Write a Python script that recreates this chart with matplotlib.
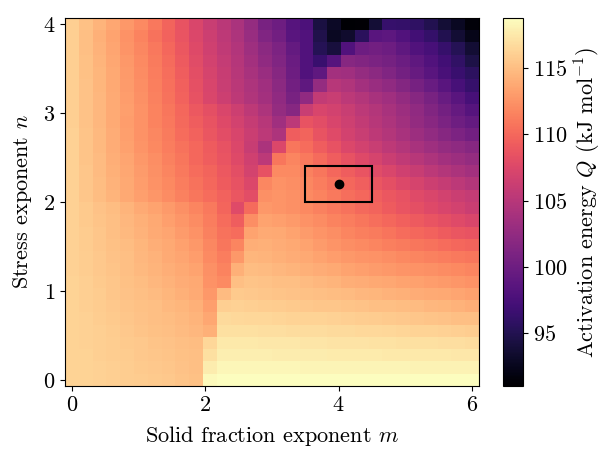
import numpy as np
import matplotlib
matplotlib.use('Agg')
from matplotlib import pyplot as plt
from matplotlib.patches import Rectangle

plt.rcParams['font.family'] = 'serif'
plt.rcParams['font.serif'] = ['cmr10']
plt.rcParams['mathtext.fontset'] = 'cm'
plt.rcParams['axes.formatter.use_mathtext'] = True
plt.rcParams['font.size'] = 16

# grid of exponents
m_values = np.linspace(0, 6, 30)
n_values = np.linspace(0, 4, 30)

# activation energy Q (kJ/mol), one row per n (n = 0 first)
q_rows = [
    [116.3, 116.2, 116.1, 116.0, 115.9, 115.8, 115.7, 115.6, 115.4, 115.2, 118.5, 118.7, 118.7, 118.8, 118.8, 118.8, 118.8, 118.8, 118.8, 118.8, 118.8, 118.7, 118.7, 118.7, 118.7, 118.7, 118.7, 118.7, 118.7, 118.7],
    [116.3, 116.2, 116.1, 116.0, 115.9, 115.7, 115.6, 115.5, 115.3, 115.1, 117.8, 118.3, 118.3, 118.3, 118.3, 118.3, 118.3, 118.2, 118.2, 118.2, 118.2, 118.2, 118.2, 118.2, 118.2, 118.1, 118.1, 118.1, 118.1, 118.1],
    [116.3, 116.2, 116.0, 115.9, 115.8, 115.6, 115.5, 115.4, 115.2, 115.0, 117.0, 117.9, 117.9, 117.9, 117.9, 117.8, 117.8, 117.8, 117.8, 117.7, 117.7, 117.7, 117.7, 117.6, 117.6, 117.6, 117.5, 117.5, 117.4, 117.4],
    [116.3, 116.1, 116.0, 115.9, 115.7, 115.6, 115.4, 115.3, 115.1, 114.9, 116.5, 117.5, 117.5, 117.5, 117.4, 117.4, 117.4, 117.3, 117.3, 117.2, 117.2, 117.2, 117.1, 117.1, 117.0, 117.0, 117.0, 116.9, 116.9, 116.8],
    [116.2, 116.1, 116.0, 115.8, 115.6, 115.4, 115.2, 115.0, 114.8, 114.6, 114.2, 117.0, 117.0, 117.0, 116.9, 116.9, 116.8, 116.8, 116.8, 116.7, 116.7, 116.6, 116.6, 116.5, 116.4, 116.3, 116.2, 116.1, 116.0, 115.9],
    [116.2, 116.1, 115.9, 115.7, 115.5, 115.3, 115.1, 114.9, 114.7, 114.4, 113.6, 116.7, 116.6, 116.5, 116.5, 116.4, 116.3, 116.2, 116.2, 116.1, 116.0, 115.9, 115.8, 115.7, 115.6, 115.5, 115.4, 115.3, 115.1, 115.0],
    [116.2, 116.0, 115.8, 115.6, 115.4, 115.2, 115.0, 114.7, 114.5, 114.2, 113.2, 116.0, 116.1, 116.0, 115.9, 115.8, 115.7, 115.6, 115.5, 115.5, 115.4, 115.3, 115.1, 115.0, 114.9, 114.8, 114.6, 114.5, 114.3, 114.1],
    [116.2, 116.0, 115.8, 115.5, 115.3, 115.1, 114.8, 114.5, 114.2, 113.9, 112.8, 114.8, 115.7, 115.6, 115.5, 115.4, 115.3, 115.2, 115.1, 114.9, 114.8, 114.6, 114.5, 114.3, 114.2, 114.0, 113.9, 113.7, 113.5, 113.3],
    [116.2, 116.0, 115.7, 115.5, 115.2, 114.9, 114.6, 114.3, 114.0, 113.7, 112.5, 112.0, 115.0, 115.4, 115.3, 115.1, 115.0, 114.8, 114.6, 114.4, 114.1, 114.0, 113.8, 113.6, 113.4, 113.3, 113.1, 112.9, 112.7, 112.5],
    [116.1, 115.9, 115.6, 115.4, 115.1, 114.7, 114.4, 114.1, 113.8, 113.4, 112.3, 111.6, 114.2, 114.9, 114.8, 114.6, 114.4, 114.2, 114.0, 113.7, 113.4, 113.2, 113.0, 112.8, 112.6, 112.4, 112.3, 112.1, 111.9, 111.7],
    [116.1, 115.9, 115.6, 115.3, 115.0, 114.6, 114.3, 113.9, 113.5, 113.1, 112.0, 111.2, 112.8, 114.5, 114.4, 114.2, 114.0, 113.7, 113.4, 113.1, 112.8, 112.6, 112.4, 112.2, 111.9, 111.7, 111.5, 111.3, 111.0, 110.8],
    [116.1, 115.8, 115.5, 115.2, 114.9, 114.5, 114.1, 113.7, 113.3, 112.8, 111.8, 110.8, 111.7, 114.1, 114.2, 114.0, 113.7, 113.4, 113.0, 112.6, 112.2, 112.0, 111.7, 111.4, 111.1, 110.8, 110.6, 110.3, 110.0, 109.7],
    [116.1, 115.8, 115.5, 115.1, 114.7, 114.3, 113.9, 113.5, 113.0, 112.5, 111.5, 110.6, 110.3, 113.4, 113.9, 113.7, 113.4, 113.0, 112.6, 112.2, 111.7, 111.4, 111.1, 110.7, 110.3, 110.0, 109.6, 109.2, 108.8, 108.5],
    [116.1, 115.7, 115.4, 115.0, 114.6, 114.2, 113.7, 113.2, 112.7, 112.1, 111.3, 110.3, 109.3, 112.2, 113.4, 113.2, 112.9, 112.5, 112.1, 111.6, 111.2, 110.8, 110.4, 110.0, 109.5, 109.1, 108.7, 108.2, 107.8, 107.3],
    [116.1, 115.7, 115.3, 114.9, 114.4, 113.9, 113.4, 112.9, 112.3, 111.7, 111.0, 109.8, 107.8, 110.2, 112.8, 112.6, 112.3, 111.9, 111.5, 111.0, 110.6, 110.1, 109.7, 109.2, 108.7, 108.2, 107.7, 107.2, 106.8, 106.3],
    [116.1, 115.5, 114.9, 114.4, 113.8, 113.2, 112.7, 112.1, 111.5, 110.8, 110.3, 109.6, 108.8, 108.0, 112.3, 112.6, 112.3, 112.0, 111.6, 111.0, 110.4, 109.9, 109.4, 108.9, 108.4, 107.8, 107.3, 106.8, 106.3, 105.8],
    [116.1, 115.5, 114.9, 114.3, 113.7, 113.1, 112.5, 111.9, 111.2, 110.6, 110.0, 109.2, 108.4, 107.4, 111.8, 112.4, 112.2, 111.8, 111.3, 110.6, 110.0, 109.4, 108.8, 108.2, 107.6, 107.0, 106.4, 105.9, 105.3, 104.7],
    [116.1, 115.5, 114.8, 114.2, 113.6, 113.0, 112.3, 111.7, 111.0, 110.3, 109.7, 109.0, 108.1, 106.9, 108.4, 112.0, 112.0, 111.5, 110.8, 110.0, 109.3, 108.6, 107.9, 107.3, 106.6, 106.0, 105.3, 104.7, 104.2, 103.7],
    [116.1, 115.4, 114.8, 114.1, 113.5, 112.8, 112.2, 111.5, 110.8, 110.0, 109.3, 108.6, 107.7, 106.6, 105.3, 110.8, 111.7, 111.0, 110.2, 109.3, 108.4, 107.7, 107.0, 106.3, 105.6, 104.9, 104.3, 103.7, 103.2, 102.7],
    [116.1, 115.4, 114.7, 114.0, 113.3, 112.6, 111.9, 111.2, 110.6, 109.9, 109.2, 108.4, 107.4, 106.0, 104.2, 107.4, 110.8, 110.3, 109.3, 108.4, 107.5, 106.8, 106.1, 105.4, 104.7, 104.0, 103.3, 102.7, 102.2, 101.7],
    [116.1, 115.4, 114.7, 114.0, 113.2, 112.5, 111.8, 111.1, 110.3, 109.6, 108.8, 108.0, 107.2, 106.3, 105.3, 104.3, 109.3, 109.7, 108.5, 107.8, 106.8, 106.1, 105.4, 104.7, 104.0, 103.2, 102.5, 101.7, 101.0, 100.3],
    [116.0, 115.3, 114.6, 113.9, 113.1, 112.4, 111.6, 110.9, 110.1, 109.3, 108.5, 107.7, 106.8, 105.9, 105.0, 103.4, 105.3, 108.5, 108.0, 107.2, 106.5, 105.7, 105.0, 104.3, 103.5, 102.6, 101.8, 100.9, 100.1, 99.3],
    [116.0, 115.3, 114.6, 113.9, 113.2, 112.4, 111.6, 110.8, 109.9, 109.0, 108.2, 107.3, 106.4, 105.4, 104.3, 102.7, 101.7, 106.2, 107.2, 106.8, 106.2, 105.3, 104.7, 104.0, 103.2, 102.3, 101.4, 100.4, 99.4, 98.3],
    [116.0, 115.3, 114.6, 113.9, 113.1, 112.3, 111.5, 110.6, 109.6, 108.4, 107.3, 106.4, 105.4, 104.5, 103.7, 102.3, 100.7, 102.3, 105.7, 106.2, 105.3, 104.7, 104.0, 103.4, 102.6, 101.7, 100.7, 99.6, 98.5, 97.3],
    [116.0, 115.3, 114.5, 113.8, 113.0, 112.2, 111.4, 110.5, 109.5, 108.3, 107.2, 106.2, 105.2, 104.3, 103.4, 102.0, 100.3, 99.0, 102.7, 105.0, 104.5, 103.7, 103.0, 102.3, 101.5, 100.6, 99.6, 98.5, 97.4, 96.3],
    [116.0, 115.2, 114.5, 113.7, 112.9, 112.1, 111.3, 110.4, 109.3, 108.1, 107.0, 106.0, 105.0, 104.0, 103.0, 101.7, 100.0, 98.0, 99.0, 103.7, 103.4, 102.7, 102.0, 101.3, 100.4, 99.5, 98.5, 97.5, 96.5, 95.6],
    [116.0, 115.2, 114.4, 113.6, 112.8, 112.0, 111.1, 110.2, 109.1, 107.9, 106.8, 105.8, 104.8, 103.6, 102.3, 101.3, 99.7, 98.0, 96.5, 98.3, 101.7, 101.4, 100.9, 100.5, 99.8, 99.0, 98.0, 97.0, 95.9, 94.5],
    [116.0, 115.1, 114.3, 113.5, 112.6, 111.8, 110.9, 109.9, 108.9, 107.7, 106.6, 105.6, 104.6, 103.3, 102.0, 101.0, 99.3, 98.0, 95.2, 94.1, 98.0, 100.0, 100.3, 100.0, 99.0, 98.0, 97.4, 96.3, 95.2, 93.7],
    [116.0, 115.1, 114.2, 113.4, 112.5, 111.6, 110.6, 109.6, 108.6, 107.4, 106.4, 105.4, 104.3, 102.9, 101.3, 100.3, 98.6, 98.0, 94.8, 92.8, 93.3, 95.5, 98.6, 98.9, 98.0, 97.0, 96.2, 95.0, 93.7, 92.2],
    [116.0, 115.2, 114.4, 113.6, 112.8, 112.0, 110.9, 109.7, 108.5, 107.3, 106.2, 105.2, 104.1, 102.7, 100.7, 100.0, 98.3, 97.7, 94.3, 93.0, 91.0, 91.2, 93.8, 96.3, 96.2, 95.8, 95.0, 93.8, 92.8, 91.5],
]
Q = np.array(q_rows)

# selected point and its uncertainty box
m_best, n_best = 4.0, 2.2
box_m = (3.5, 4.5)
box_n = (2.0, 2.4)

fig = plt.figure(figsize=(6.04, 4.49), dpi=100)
ax = fig.add_axes([0.1076, 0.1403, 0.6855, 0.8197])
cax = fig.add_axes([0.8328, 0.1403, 0.0331, 0.8197])

mesh = ax.pcolormesh(m_values, n_values, Q, cmap='magma', shading='nearest')
ax.add_patch(Rectangle((box_m[0], box_n[0]), box_m[1] - box_m[0], box_n[1] - box_n[0],
                       fill=False, edgecolor='black', linewidth=1.5))
ax.plot(m_best, n_best, 'o', color='black', markersize=6)

ax.set_xticks([0, 2, 4, 6])
ax.set_yticks([0, 1, 2, 3, 4])
ax.set_xlabel('Solid fraction exponent $m$', labelpad=6)
ax.set_ylabel('Stress exponent $n$', labelpad=6)

cb = fig.colorbar(mesh, cax=cax)
cb.set_ticks([95, 100, 105, 110, 115])
cb.set_label('Activation energy $Q$ (kJ mol$^{-1}$)')

plt.savefig('out.png', dpi=100)
